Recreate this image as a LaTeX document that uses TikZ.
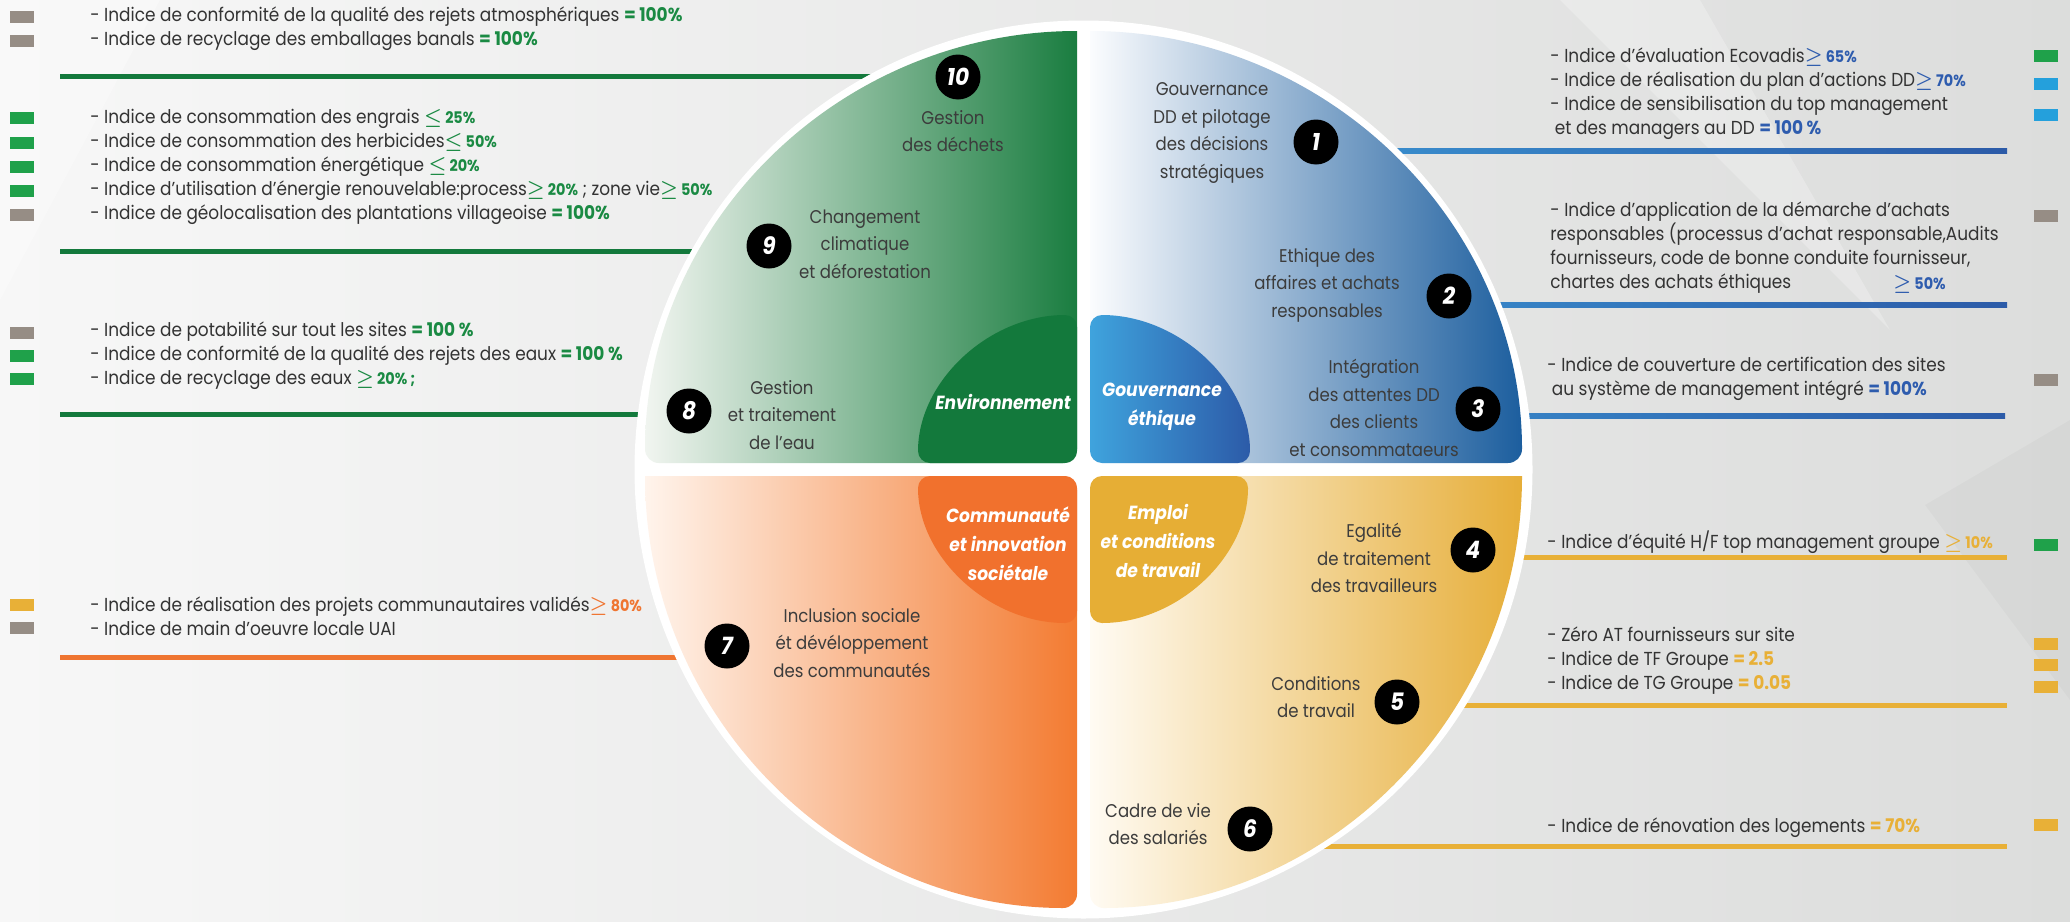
\documentclass[tikz,border=0pt]{standalone}
\usepackage{fontspec}
\setmainfont{Poppins}[FakeStretch=0.9]
\usepackage{tikz}

\definecolor{txtdark}{HTML}{333333}
\definecolor{txtquad}{HTML}{3C3C3C}
\definecolor{bgl}{HTML}{F7F7F7}
\definecolor{bgr}{HTML}{DCDDDC}
\definecolor{envgreen}{HTML}{13793C}
\definecolor{valgreen}{HTML}{1A8A43}
\definecolor{valblue}{HTML}{2E5CAE}
\definecolor{valyellow}{HTML}{E8B037}
\definecolor{valorange}{HTML}{EF7531}
\definecolor{swgreen}{HTML}{1FA14A}
\definecolor{swgray}{HTML}{968D85}
\definecolor{swblue}{HTML}{24A0DC}
\definecolor{swyellow}{HTML}{E8B037}
\definecolor{gouvlight}{HTML}{3FA3DD}
\definecolor{gouvblue}{HTML}{2C5BA8}
\definecolor{commorange}{HTML}{F1712D}
\definecolor{emploiyellow}{HTML}{E6AE35}
\definecolor{greenlt}{HTML}{F1F5F0}
\definecolor{greenmid}{HTML}{9DBB9A}
\definecolor{greenquad}{HTML}{1A7D40}
\definecolor{bluelt}{HTML}{FBFCFE}
\definecolor{bluemid}{HTML}{A6B3D4}
\definecolor{bluequad}{HTML}{1C5E9E}
\definecolor{orangelt}{HTML}{FFF4EC}
\definecolor{orangemid}{HTML}{F9BF97}
\definecolor{orangequad}{HTML}{F37B31}
\definecolor{yellowlt}{HTML}{FFFBF3}
\definecolor{yellowmid}{HTML}{F3D8A2}
\definecolor{yellowquad}{HTML}{E6AE39}

\newcommand{\kval}[2]{{\color{#1}\bfseries #2}}
\newcommand{\kcmp}[3]{{\color{#1}{\fontsize{9.8}{12}\selectfont\boldmath$#2$}\,{\fontsize{8}{12}\selectfont\bfseries #3}}}

\tikzset{
  quadtext/.style={align=center, text=txtquad, font=\fontsize{9.2}{13.75}\selectfont},
  kpitext/.style={align=left, anchor=west, text=txtdark, inner sep=0pt, font=\fontsize{9.4}{12}\selectfont},
  badge/.style={circle, fill=black, text=white, minimum size=22.5pt, inner sep=0pt, font=\fontsize{12}{12}\selectfont\bfseries\itshape},
  pillar/.style={align=center, text=white, font=\fontsize{9.5}{14.5}\selectfont\bfseries\itshape},
  swatch/.style={minimum width=12pt, minimum height=6pt, inner sep=0pt},
  sepline/.style={line width=2.5pt}
}

\begin{document}
\begin{tikzpicture}[x=0.5pt,y=-0.5pt]
    \useasboundingbox (0,0) rectangle (2070,921);
    \shade[left color=bgl, right color=bgr] (0,0) rectangle (2070,921);
    % faint facets
    \fill[white, opacity=0.25] (1560,0) -- (1700,0) -- (1890,330) -- cycle;
    \fill[black, opacity=0.025] (1925,505) -- (2070,420) -- (2070,700) -- cycle;
    \fill[white, opacity=0.3] (0,0) -- (160,0) -- (0,300) -- cycle;

    % separators left
    \coordinate (s1a) at (60,76);   \coordinate (s1b) at (1083,76);
    \coordinate (s2a) at (60,251);  \coordinate (s2b) at (1083,251);
    \coordinate (s3a) at (60,414);  \coordinate (s3b) at (1083,414);
    \coordinate (s4a) at (60,657);  \coordinate (s4b) at (1083,657);
    \draw[sepline, envgreen] (s1a) -- (s1b);
    \draw[sepline, envgreen] (s2a) -- (s2b);
    \draw[sepline, envgreen] (s3a) -- (s3b);
    \draw[sepline, valorange] (s4a) -- (s4b);
    % separators right
    \shade[left color=gouvlight, right color=gouvblue] (1083,148.5) rectangle (2007,153.5);
    \shade[left color=gouvlight, right color=gouvblue] (1083,302.5) rectangle (2007,307.5);
    \shade[left color=gouvlight, right color=gouvblue] (1083,413.5) rectangle (2005,418.5);
    \coordinate (y1a) at (1083,557); \coordinate (y1b) at (2007,557);
    \coordinate (y2a) at (1083,705); \coordinate (y2b) at (2007,705);
    \coordinate (y3a) at (1083,846); \coordinate (y3b) at (2007,846);
    \draw[sepline, valyellow] (y1a) -- (y1b);
    \draw[sepline, valyellow] (y2a) -- (y2b);
    \draw[sepline, valyellow] (y3a) -- (y3b);

    % wheel
    \fill[white] (1083.5,469.5) circle[radius=449];
    \path[left color=greenlt, middle color=greenmid, right color=greenquad]
        (1077,31) [rounded corners=7pt] -- (1077,463) -- (645,463) [sharp corners]
        arc[start angle=180, end angle=270, radius=432] -- cycle;
    \path[left color=bluelt, middle color=bluemid, right color=bluequad]
        (1090,31) [rounded corners=7pt] -- (1090,463) -- (1522,463) [sharp corners]
        arc[start angle=0, end angle=-90, radius=432] -- cycle;
    \path[left color=orangelt, middle color=orangemid, right color=orangequad]
        (645,476) [rounded corners=7pt] -- (1077,476) -- (1077,908) [sharp corners]
        arc[start angle=90, end angle=180, radius=432] -- cycle;
    \path[left color=yellowlt, middle color=yellowmid, right color=yellowquad]
        (1522,476) [rounded corners=7pt] -- (1090,476) -- (1090,908) [sharp corners]
        arc[start angle=90, end angle=0, radius=432] -- cycle;

    % pillars
    \fill[envgreen, rounded corners=6pt] (918,463)
        arc[start angle=180, end angle=270, x radius=159, y radius=148] -- (1077,463) -- cycle;
    \path[left color=gouvlight, right color=gouvblue, rounded corners=6pt] (1250,463)
        arc[start angle=0, end angle=-90, x radius=160, y radius=148] -- (1090,463) -- cycle;
    \fill[commorange, rounded corners=6pt] (1077,623)
        arc[start angle=90, end angle=180, x radius=159, y radius=147] -- (1077,476) -- cycle;
    \fill[emploiyellow, rounded corners=6pt] (1090,623)
        arc[start angle=90, end angle=0, x radius=158, y radius=147] -- (1090,476) -- cycle;

    \node[pillar] (env) at (1003,402) {Environnement};
    \node[pillar] (gouv) at (1162,407) {Gouvernance\\éthique};
    \node[pillar] (comm) at (1008,544) {Communauté\\et innovation\\sociétale};
    \node[pillar] (emploi) at (1158,541) {Emploi\\et conditions\\de travail};

    % themes
    \node[quadtext] (q1) at (1212,133) {Gouvernance\\DD et pilotage\\des décisions\\stratégiques};
    \node[quadtext] (q2) at (1327,285) {Ethique des\\affaires et achats\\responsables};
    \node[quadtext] (q3) at (1374,408) {Intégration\\des attentes DD\\des clients\\et consommataeurs};
    \node[quadtext] (q4) at (1374,558) {Egalité\\de traitement\\des travailleurs};
    \node[quadtext] (q5) at (1316,697) {Conditions\\de travail};
    \node[quadtext] (q6) at (1158,824) {Cadre de vie\\des salariés};
    \node[quadtext] (q7) at (852,643) {Inclusion sociale\\ét dévéloppement\\des communautés};
    \node[quadtext] (q8) at (782,415) {Gestion\\et traitement\\de l’eau};
    \node[quadtext] (q9) at (865,244) {Changement\\climatique\\et déforestation};
    \node[quadtext] (q10) at (953,131) {Gestion\\des déchets};

    \node[badge] (b1) at (1316,142) {1};
    \node[badge] (b2) at (1449,296) {2};
    \node[badge] (b3) at (1478,409) {3};
    \node[badge] (b4) at (1473,550) {4};
    \node[badge] (b5) at (1397,702) {5};
    \node[badge] (b6) at (1250,829) {6};
    \node[badge] (b7) at (727,646) {7};
    \node[badge] (b8) at (689,411) {8};
    \node[badge] (b9) at (769,246) {9};
    \node[badge] (b10) at (958,77) {10};

    % indicators left
    \node[kpitext] (k1) at (90,29) {- Indice de conformité de la qualité des rejets atmosphériques \kval{valgreen}{= 100\%}\\
        - Indice de recyclage des emballages banals \kval{valgreen}{= 100\%}};
    \node[kpitext] (k2) at (90,166.5) {- Indice de consommation des engrais \kcmp{valgreen}{\leq}{25\%}\\
        - Indice de consommation des herbicides\kcmp{valgreen}{\leq}{50\%}\\
        - Indice de consommation énergétique \kcmp{valgreen}{\leq}{20\%}\\
        - Indice d’utilisation d’énergie renouvelable:process\kcmp{valgreen}{\geq}{20\%} ; zone vie\kcmp{valgreen}{\geq}{50\%}\\
        - Indice de géolocalisation des plantations villageoise \kval{valgreen}{= 100\%}};
    \node[kpitext] (k3) at (90,356) {- Indice de potabilité sur tout les sites \kval{valgreen}{= 100 \%}\\
        - Indice de conformité de la qualité des rejets des eaux \kval{valgreen}{= 100 \%}\\
        - Indice de recyclage des eaux \kcmp{valgreen}{\geq}{20\% ;}};
    \node[kpitext] (k4) at (90,616.5) {- Indice de réalisation des projets communautaires validés\kcmp{valorange}{\geq}{80\%}\\
        - Indice de main d’oeuvre locale UAI};

    % indicators right
    \node[kpitext] (r1) at (1550,93.5) {- Indice d’évaluation Ecovadis\kcmp{valblue}{\geq}{65\%}\\
        - Indice de réalisation du plan d’actions DD\kcmp{valblue}{\geq}{70\%}\\
        - Indice de sensibilisation du top management\\
        \ et des managers au DD \kval{valblue}{= 100 \%}};
    \node[kpitext] (r2) at (1550,248) {- Indice d’application de la démarche d’achats\\
        responsables (processus d’achat responsable,Audits\\
        fournisseurs, code de bonne conduite fournisseur,\\
        chartes des achats éthiques};
    \node[kpitext] (r2v) at (1893,284) {\kcmp{valblue}{\geq}{50\%}};
    \node[kpitext] (r3) at (1547,379) {- Indice de couverture de certification des sites\\
        \ au système de management intégré \kval{valblue}{= 100\%}};
    \node[kpitext] (r4) at (1547,542) {- Indice d’équité H/F top management groupe \kcmp{valyellow}{\geq}{10\%}};
    \node[kpitext] (r5) at (1547,660.5) {- Zéro AT fournisseurs sur site\\
        - Indice de TF Groupe \kval{valyellow}{= 2.5}\\
        - Indice de TG Groupe \kval{valyellow}{= 0.05}};
    \node[kpitext] (r6) at (1547,828) {- Indice de rénovation des logements \kval{valyellow}{= 70\%}};

    % colour keys
    \foreach \y/\c [count=\i] in {17/swgray, 41/swgray, 118/swgreen, 143/swgreen, 167/swgreen,
        191/swgreen, 215/swgray, 333/swgray, 356/swgreen, 379/swgreen, 605/swyellow, 628/swgray}
        \node[swatch, fill=\c] (kl\i) at (22,\y) {};
    \foreach \y/\c [count=\i] in {56/swgreen, 84/swblue, 115/swblue, 216/swgray, 380/swgray,
        545/swgreen, 644/swyellow, 665/swyellow, 687/swyellow, 825/swyellow}
        \node[swatch, fill=\c] (kr\i) at (2046,\y) {};
\end{tikzpicture}
\end{document}
